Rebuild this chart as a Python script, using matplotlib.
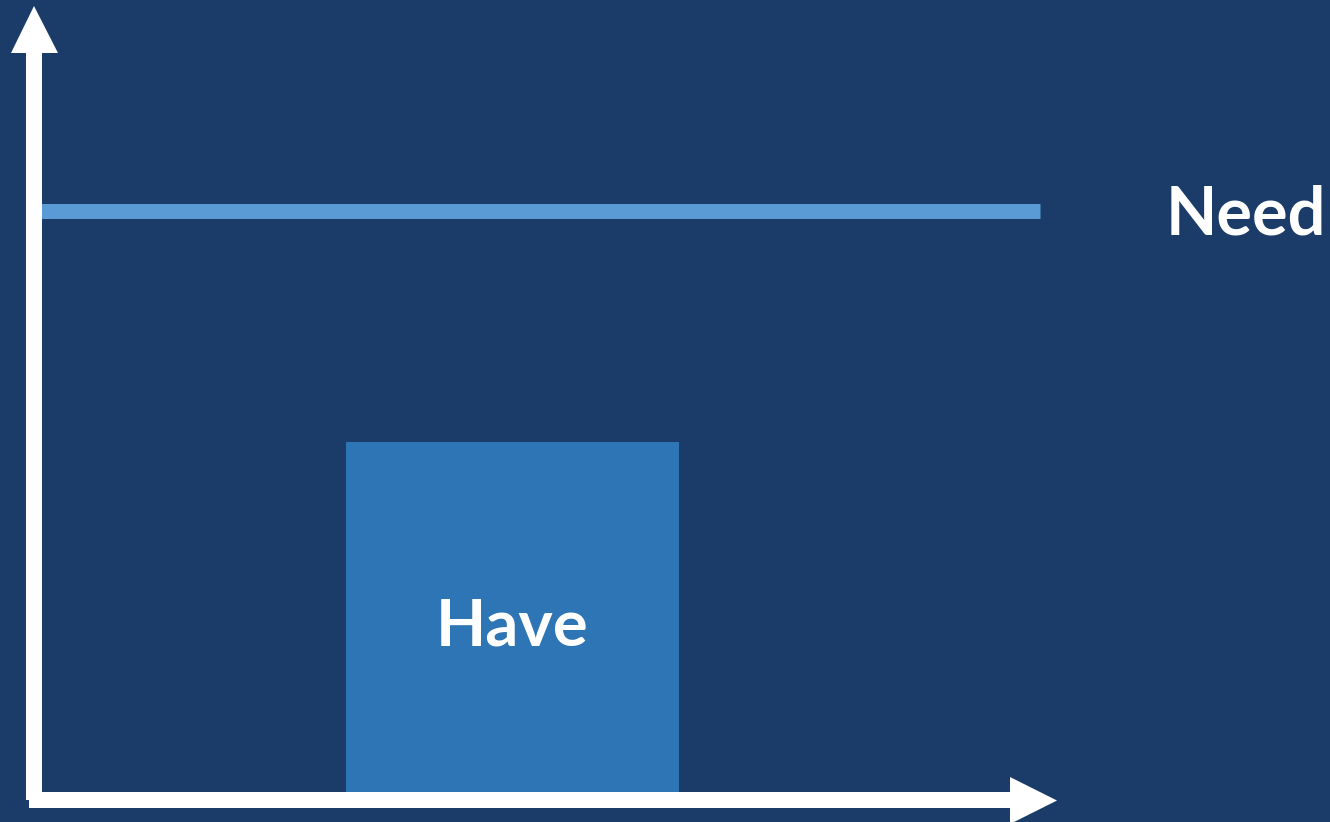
import matplotlib
matplotlib.use("Agg")
import matplotlib.pyplot as plt
from matplotlib.patches import Polygon

# ---- data ----
categories = ["Have"]
have_values = [45.3]
need_value = 74.6
need_label = "Need"

BG = "#1b3c69"
BAR = "#2e75b6"
LINE = "#5b9bd5"
W, H = 1330, 822

fig = plt.figure(figsize=(W / 100, H / 100), dpi=100, facecolor=BG)

# data axes: bar center at x=0, width 1 -> 333 px; y: 0 at px 800, 100 units = 790 px
ax = fig.add_axes([0, 0, 1, 1])
ax.set_facecolor(BG)
px_per_x = 333.0
x_center_px = 512.5
px_per_y = 7.9
y0_px = 800
ax.set_xlim((0 - x_center_px) / px_per_x, (W - x_center_px) / px_per_x)
ax.set_ylim(-(H - y0_px) / px_per_y, y0_px / px_per_y)
ax.axis("off")

xs = list(range(len(categories)))
ax.bar(xs, have_values, width=1.0, color=BAR, zorder=2)
for x, v, c in zip(xs, have_values, categories):
    ax.annotate(c, xy=(x, v / 2), xytext=(0, -24), textcoords="offset pixels",
                ha="center", va="baseline", color="white",
                fontsize=47, fontweight="bold", family=["Lato", "DejaVu Sans"], zorder=3)

x_line0 = (41 - x_center_px) / px_per_x
x_line1 = (1040 - x_center_px) / px_per_x
ax.plot([x_line0, x_line1], [need_value, need_value], color=LINE, lw=15 * 0.72,
        solid_capstyle="butt", zorder=2)
ax.annotate(need_label, xy=((1166 - x_center_px) / px_per_x, need_value),
            xytext=(0, -24), textcoords="offset pixels", ha="left", va="baseline",
            color="white", fontsize=48, fontweight="bold",
            family=["Lato", "DejaVu Sans"])

# overlay axes in pixel coordinates for the arrows
ov = fig.add_axes([0, 0, 1, 1], facecolor="none")
ov.set_xlim(0, W)
ov.set_ylim(H, 0)
ov.axis("off")

# y-axis arrow
ov.add_patch(Polygon([(26, 800), (42, 800), (42, 52), (26, 52)], closed=True,
                     color="white", lw=0))
ov.add_patch(Polygon([(11, 53), (58, 53), (34, 6)], closed=True, color="white", lw=0))
# x-axis arrow
ov.add_patch(Polygon([(29, 792), (1011, 792), (1011, 808), (29, 808)], closed=True,
                     color="white", lw=0))
ov.add_patch(Polygon([(1010, 777), (1010, 824), (1057, 800.5)], closed=True,
                     color="white", lw=0))

fig.savefig("out.png", dpi=100, facecolor=BG)
